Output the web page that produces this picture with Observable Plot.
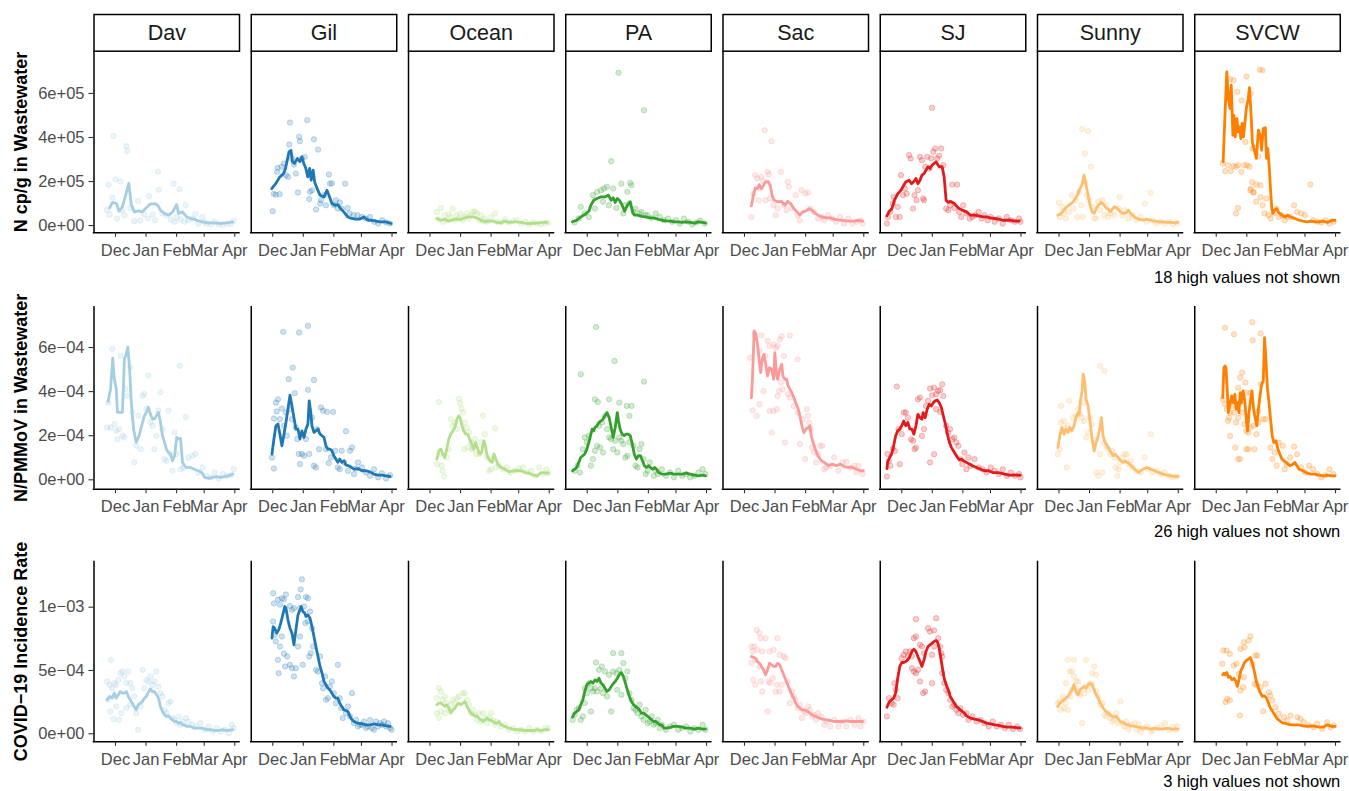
<!DOCTYPE html>
<html><head><meta charset="utf-8">
<script src="https://cdn.jsdelivr.net/npm/d3@7"></script>
<script src="https://cdn.jsdelivr.net/npm/@observablehq/plot@0.6"></script>
<style>
html,body{margin:0;padding:0;background:#fff;overflow:hidden;}
#chart{width:1349px;height:791px;position:relative;overflow:hidden;}
#chart svg{display:block;overflow:visible;}
</style></head><body><div id="chart"></div>
<script>
// ---------- categories / labels ----------
const sites = ["Dav","Gil","Ocean","PA","Sac","SJ","Sunny","SVCW"];
const siteColors = ["#A6CEE3","#1F78B4","#B2DF8A","#33A02C","#FB9A99","#E31A1C","#FDBF6F","#FF7F00"];
const rowTitles = ["N cp/g in Wastewater","N/PMMoV in Wastewater","COVID\u221219 Incidence Rate"];
const rowCaptions = ["18 high values not shown","26 high values not shown","3 high values not shown"];
const monthTicks = ["2021-12-01","2022-01-01","2022-02-01","2022-03-01","2022-04-01"];
const yTicksCpg = [0, 2e5, 4e5, 6e5];
const yTicksPmm = [0, 2e-4, 4e-4, 6e-4];
const yTicksInc = [0, 5e-4, 1e-3];

// ---------- data: [days after 2021-12-01, value] ----------
// Row 1: N cp/g (units of 1e5)
const cpgDavLine = [[-6,0.8],[-3,1.05],[1,1.0],[3.5,0.65],[7,0.85],[11,1.5],[13.5,1.92],[16,0.95],[19,0.62],[23,0.67],[27,0.62],[31,0.8],[35,0.97],[39.5,1.0],[43,0.92],[45.5,0.7],[49.5,0.55],[54,0.47],[58,0.62],[62,0.95],[64,0.55],[68,0.62],[72,0.4],[76,0.32],[80,0.29],[84,0.21],[88,0.17],[94,0.12],[100,0.12],[106,0.1],[113,0.12],[119,0.17]];
const cpgDavPts = [[-2,4.07],[11,3.6],[12,3.38],[0,2.1],[5,2.0],[-7,1.85],[43,2.45],[59,1.9],[65,1.65],[44,1.63],[34,1.33],[-3,1.26],[23,1.12],[71,0.92],[-9,0.7],[-6,0.5],[1.6,0.32],[7,0.7],[9,0.47],[15,0.8],[19,0.2],[25,0.23],[29,0.5],[33,0.32],[37.5,0.5],[40,0.24],[47.6,0.55],[51.7,0.47],[56,0.27],[60,0.17],[62,0.39],[66,0.29],[70,0.17],[74,0.24],[78,0.32],[81,0.52],[84,0.09],[88,0.39],[90,0.17],[92.5,0.09],[96.5,0.05],[100.6,0.17],[104.7,0.06],[108.8,0.02],[113,0.09],[117,0.08],[120,0.21]];
const cpgGilLine = [[-1,1.68],[3,1.9],[7,2.2],[11,2.36],[13,2.6],[16.5,3.35],[18.5,3.42],[20,2.9],[22,2.82],[25,3.05],[27.5,2.9],[29.5,3.12],[31.5,2.82],[33.5,2.6],[35.5,2.21],[37.5,2.6],[39,2.06],[41,2.52],[42.5,1.98],[45,1.68],[48,1.38],[52,1.3],[55,1.6],[57,1.38],[60,1.0],[63,0.92],[66,0.95],[69,0.77],[72,0.62],[76,0.39],[80,0.32],[84,0.29],[88,0.29],[92.5,0.39],[96.5,0.24],[100.5,0.24],[105,0.2],[109,0.17],[113,0.17],[117,0.14],[120,0.09]];
const cpgGilPts = [[0,0.65],[1,1.45],[3,1.4],[7,1.42],[4.5,2.44],[5,2.62],[9,2.67],[11.4,2.82],[13.4,2.29],[15.5,2.21],[16.7,3.68],[17.5,4.68],[19.5,3.05],[21.5,2.77],[23.5,2.36],[25.6,1.5],[26.8,4.03],[27.6,3.83],[29.6,3.05],[32.5,3.12],[35,4.79],[37,1.2],[37.8,1.53],[39.8,1.6],[41.8,3.92],[44,0.73],[46,3.45],[48,1.0],[49,1.15],[52,1.38],[54,0.92],[57,2.32],[58,1.9],[60,1.92],[62,0.92],[64,1.15],[66,0.77],[68,1.05],[70,0.77],[73.5,1.9],[76,0.8],[78,0.55],[82,0.47],[86,0.47],[90.5,0.39],[94.6,0.32],[98.7,0.39],[103,0.17],[107,0.09],[111,0.24],[115,0.14],[119,0.09]];
const cpgOceanLine = [[7,0.32],[11,0.24],[15,0.29],[19,0.2],[23,0.26],[27,0.29],[31,0.27],[35,0.35],[39.5,0.39],[43.5,0.39],[47.5,0.35],[51.5,0.24],[56,0.17],[60,0.21],[64,0.2],[68,0.14],[72,0.12],[76,0.2],[80,0.14],[84,0.17],[88,0.17],[92.5,0.14],[96.5,0.11],[100.5,0.09],[104.5,0.11],[109,0.11],[113,0.14],[119,0.14]];
const cpgOceanPts = [[7,0.62],[9,0.29],[11,0.8],[13,0.17],[15,0.47],[17,0.24],[19,0.5],[21,0.39],[23,0.77],[25,0.24],[27,0.47],[29,0.32],[31,0.53],[33,0.24],[35,0.39],[37.5,0.55],[39.5,0.32],[41.5,0.47],[43.6,0.62],[45.6,0.65],[47.7,0.55],[49.7,0.24],[51.7,0.47],[53.8,0.2],[55.8,0.32],[58,0.17],[62,0.39],[66,0.55],[68,0.17],[72,0.14],[76,0.29],[80,0.14],[84,0.2],[88,0.24],[92.5,0.09],[96.5,0.17],[100.6,0.06],[104.7,0.14],[108.8,0.09],[113,0.06],[117,0.11],[120,0.14]];
const cpgPALine = [[-15,0.17],[-10.7,0.24],[-6.6,0.39],[-2.5,0.5],[1.6,0.65],[3.7,0.92],[6.6,1.15],[9.9,1.23],[14,1.3],[18,1.3],[21.4,1.38],[24.3,1.15],[26.3,1.26],[28.4,1.05],[30.5,1.23],[32.5,1.15],[34.6,1.0],[37.9,0.65],[40.7,0.92],[43.6,1.08],[46,0.62],[47.7,0.47],[51,0.47],[55,0.42],[59,0.39],[63.4,0.35],[67.5,0.35],[71.6,0.29],[75.7,0.24],[79.8,0.21],[84,0.2],[88,0.17],[92,0.17],[96.3,0.14],[100.4,0.17],[104.5,0.14],[108.6,0.11],[112.8,0.17],[117,0.14],[120,0.11]];
const cpgPAPts = [[31.7,6.94],[57.6,5.24],[24.3,2.92],[34.6,1.9],[43.6,1.94],[44.8,1.83],[20,1.76],[17,1.68],[14,1.6],[-6.6,0.85],[-2.5,0.55],[5.8,1.38],[9.9,1.53],[26.3,1.68],[29.6,0.8],[36.6,0.55],[40.7,1.53],[42.8,1.0],[47,0.62],[49,0.77],[53,0.55],[55,0.62],[61,0.47],[65,0.35],[69.5,0.55],[73.6,0.39],[77.8,0.24],[82,0.32],[86,0.17],[90,0.24],[94,0.09],[98,0.32],[102.5,0.17],[106.6,0.05],[110.7,0.14],[114.8,0.23],[119,0.09],[-12.8,0.14],[-8.6,0.32],[1.6,0.39],[7.8,0.77],[16,1.08],[22,0.92],[38.7,0.92],[59,0.47]];
const cpgSacLine = [[7,0.89],[9,1.38],[11,1.71],[13,1.68],[15,1.86],[17,1.68],[19,1.8],[21.3,1.98],[24,2.0],[26,1.83],[28,1.38],[30,1.15],[33.6,1.08],[37.7,1.1],[41,0.92],[43.9,1.1],[46.8,1.0],[50,0.77],[53.3,0.62],[56.2,0.47],[59,0.62],[62,0.65],[65.6,0.77],[68.5,0.7],[71.8,0.55],[74.6,0.47],[78.8,0.39],[82.9,0.35],[87,0.35],[91,0.29],[95,0.26],[99,0.24],[103,0.21],[107.5,0.2],[111.6,0.2],[115.7,0.24],[119.8,0.2]];
const cpgSacPts = [[20.5,4.33],[27.5,3.83],[7,0.39],[9,1.45],[11,2.29],[13,2.14],[14.4,1.15],[16.4,1.68],[17,2.21],[19,2.02],[21.3,1.15],[23.4,2.44],[24.6,2.32],[26,1.23],[29.5,0.92],[31.6,0.47],[33.6,0.77],[37,2.44],[40,0.92],[42.7,0.7],[43.9,1.98],[45,1.76],[48,0.8],[52,1.38],[54,0.47],[58,1.6],[61.5,1.45],[64.4,1.5],[56,0.24],[66.5,0.77],[70.5,0.62],[74.6,0.32],[78.8,0.39],[80.8,0.24],[85,0.47],[89,0.32],[93,0.17],[97,0.39],[101,0.09],[105.4,0.32],[109.5,0.09],[113.6,0.17],[117.7,0.24],[119.8,0.09]];
const cpgSJLine = [[-15,0.44],[-13,0.62],[-10,0.77],[-7.4,1.15],[-4,1.45],[-0.8,1.6],[2,1.83],[4,1.98],[7.4,2.06],[10,1.9],[12.3,2.0],[14.4,2.14],[16.4,1.9],[18.5,2.06],[20.5,2.29],[22.6,2.36],[24.6,2.52],[26.7,2.67],[28.7,2.59],[30.8,2.74],[32.8,2.82],[34.9,2.89],[37,2.74],[38,2.67],[41,2.67],[43,2.21],[45,1.15],[47.2,1.05],[49.2,1.1],[53.3,1.0],[57.4,0.8],[61.5,0.7],[65.6,0.62],[69.7,0.47],[73.8,0.47],[78,0.44],[82,0.39],[86,0.39],[90,0.35],[94.3,0.32],[98.4,0.29],[102.5,0.24],[106.6,0.24],[110.7,0.24],[114.8,0.2],[119,0.2]];
const cpgSJPts = [[30.8,5.35],[-15,0.09],[-14,0.39],[-11.5,0.62],[-9,1.0],[-8.2,1.3],[-6,0.39],[-4,0.85],[-2,0.39],[-0.8,2.29],[1.2,1.38],[3.3,1.68],[5,1.45],[7.4,3.2],[9,3.05],[11.5,0.77],[13,1.38],[15,1.15],[16.4,1.6],[18.5,3.12],[20.5,2.97],[21.7,1.23],[22.6,1.15],[23.8,2.67],[25.8,3.12],[27.9,2.59],[30,3.05],[32,3.35],[34,3.5],[36,3.05],[38,3.17],[40,3.5],[42.2,2.74],[45,0.77],[47.2,0.7],[49.2,0.92],[51.3,1.86],[53.3,0.8],[56.2,1.86],[58.2,0.62],[60.3,0.39],[62.3,0.92],[65.6,0.55],[68.9,0.32],[71.8,0.39],[74.6,0.47],[78,0.62],[81,0.32],[84,0.47],[87,0.24],[90.2,0.39],[94.3,0.17],[98.4,0.32],[102.5,0.09],[106.6,0.39],[110.7,0.24],[114.8,0.17],[119,0.32],[120.5,0.17]];
const cpgSunnyLine = [[-1.2,0.47],[2,0.55],[5,0.7],[7.8,0.85],[11,0.95],[14.4,1.08],[17.2,1.26],[19.3,1.45],[21.3,1.68],[23.4,1.86],[25.4,2.29],[27.5,1.83],[29.5,1.38],[31.6,0.92],[33.6,0.62],[35.7,0.55],[37.7,0.77],[39.8,0.92],[43,1.05],[46,0.92],[48,0.8],[50,0.74],[52,0.62],[54,0.73],[56,0.85],[59.5,0.77],[62.3,0.62],[65,0.55],[68.5,0.59],[70.5,0.7],[72.6,0.55],[76.7,0.39],[80.8,0.29],[85,0.24],[89,0.29],[93,0.24],[97.2,0.2],[101.3,0.17],[105.4,0.17],[109.5,0.14],[113.6,0.14],[117.7,0.12],[120.5,0.14]];
const cpgSunnyPts = [[23.4,4.38],[29.5,4.29],[26.2,3.27],[32.4,2.67],[0,1.05],[0.8,0.39],[3,0.85],[5,0.55],[7,0.32],[10,0.62],[13,1.38],[15,0.77],[17.2,1.15],[18.5,0.39],[20.5,1.53],[22.5,0.92],[24.2,0.39],[26.7,1.98],[28.3,1.38],[30.3,1.15],[33.6,0.85],[35.7,0.32],[37.7,0.32],[39.8,1.08],[41.8,0.7],[43.9,1.15],[46,0.47],[48,0.92],[50,0.39],[52,0.55],[56,0.47],[60.3,0.77],[61.5,1.3],[64.4,0.47],[66.4,0.7],[70.5,0.32],[74.6,0.47],[78.8,0.24],[82.9,0.39],[87,1.0],[89,0.17],[93,1.48],[95,0.24],[99,0.09],[103.4,0.17],[107.5,0.09],[111.6,0.17],[115.7,0.06],[119.8,0.11]];
const cpgSVCWLine = [[7,2.89],[9,5.17],[10.7,6.98],[12.3,5.77],[14,5.32],[15.2,6.38],[16.9,4.1],[18,5.0],[19.3,4.03],[21,4.86],[22.2,4.26],[23.5,4.48],[25,3.95],[26.3,4.64],[27.6,4.03],[29.2,4.71],[30.5,5.32],[32.5,5.77],[33.7,6.26],[35.4,5.0],[36.6,3.8],[38.7,3.42],[40.7,3.05],[42.8,4.33],[44.9,4.03],[46,3.42],[47.7,4.41],[49.8,4.44],[51,3.05],[52.3,3.5],[53.9,2.59],[55,1.68],[56.4,0.77],[57.6,0.55],[59,0.7],[61.3,0.77],[63.4,0.59],[66.7,0.47],[69.5,0.39],[72.4,0.47],[75.7,0.39],[79.8,0.32],[84,0.24],[88,0.2],[92.2,0.17],[96.3,0.2],[100.4,0.17],[104.5,0.17],[108.6,0.2],[112.8,0.14],[117,0.24],[120.5,0.24]];
const cpgSVCWPts = [[14,6.65],[17.5,6.6],[21.4,6.08],[30.7,6.77],[44.2,7.08],[47,7.05],[25.7,5.68],[34.8,5.99],[29.7,3.79],[42.6,3.14],[6.6,2.82],[9,2.47],[11.9,2.74],[14.8,2.47],[17.3,2.71],[20,2.67],[22.2,2.74],[25.5,2.44],[28.4,2.74],[31.3,2.74],[33.7,2.67],[36.6,3.5],[38.7,3.53],[40.7,1.86],[22,0.8],[20,0.55],[35,1.67],[38,1.51],[36.5,1.97],[45,1.29],[34.6,1.6],[37.5,1.5],[40.7,1.08],[44.9,1.83],[47,0.92],[49,0.55],[51,1.23],[53,0.47],[55,0.32],[58.4,0.55],[61.3,0.77],[63.4,0.39],[66.7,0.47],[69.5,0.24],[72.4,0.39],[75.7,0.39],[79,0.92],[82,0.62],[86,0.55],[90,0.47],[95.5,1.86],[98.4,0.24],[102.5,0.17],[106.6,0.14],[110.7,0.24],[114.8,0.09],[119,0.17]];

// Row 2: N/PMMoV (units of 1e-4)
const pmmDavLine = [[-7.5,3.55],[-5,4.12],[-2.8,5.52],[-1.2,4.58],[0.8,4.12],[2,3.06],[5,3.06],[7,3.06],[8.1,4.27],[9,5.48],[11,5.71],[12.5,6.02],[14.3,5.03],[16,3.52],[18.3,2.3],[21,1.7],[24,2.0],[26.5,2.45],[29.3,2.91],[31.4,3.06],[33.4,3.29],[35.4,2.98],[37.5,2.76],[39.5,2.76],[41.5,2.91],[43.6,3.06],[45.6,2.61],[47.7,2.0],[49.7,1.7],[51.7,1.39],[53.8,1.24],[55.8,1.17],[57.8,0.86],[60,1.09],[62,1.92],[64,1.85],[66,1.88],[68,0.79],[70,0.64],[72,0.56],[76,0.56],[80,0.48],[84,0.41],[87.6,0.33],[90.5,0.11],[94.5,0.06],[98.6,0.11],[102.6,0.14],[106.7,0.11],[110.8,0.15],[115,0.18],[119,0.26]];
const pmmDavPts = [[-3.3,5.94],[5,5.63],[-7.3,3.5],[-8.5,2.37],[-5,2.37],[-1.2,2.52],[0.8,2.22],[2,1.84],[3.7,2.3],[7,2.0],[9,1.92],[10,4.12],[11.8,3.82],[15,5.1],[17,3.06],[19,0.79],[21,1.55],[23,2.91],[25.6,1.39],[27.3,3.82],[29.3,3.89],[31.4,3.21],[33.4,4.73],[35.4,2.61],[37.5,2.45],[39.5,1.39],[41.5,2.0],[43.6,3.14],[45.6,3.97],[47.7,2.3],[49.7,0.94],[51.7,0.86],[53.8,3.14],[55.8,1.17],[57.8,0.41],[60,2.15],[62,1.17],[65,5.17],[66,0.48],[69,0.56],[71.3,2.85],[74,1.01],[78,1.09],[81,1.17],[84,0.33],[88.4,0.56],[92.5,0.18],[96.5,0.11],[100.6,0.33],[104.7,0.06],[108.8,0.26],[113,0.18],[117,0.21],[120,0.48]];
const pmmGilLine = [[-0.8,1.17],[1.2,1.85],[3.2,2.45],[5.3,2.53],[7.3,2.07],[9.3,1.54],[11.4,2.07],[13.4,2.6],[15.4,3.2],[17.5,3.84],[19.5,3.35],[21.5,2.82],[23.5,2.3],[25.6,2.3],[27.6,1.85],[29.6,2.22],[31.7,1.92],[33.7,2.3],[35.7,2.53],[37,3.58],[38.6,3.05],[39.8,2.45],[41.8,2.15],[43.8,2.22],[45.9,2.3],[48,2.07],[50,2.0],[52,1.92],[54,1.54],[56,1.39],[58,1.39],[60,1.32],[62,1.09],[64,0.94],[66,0.79],[68,0.94],[70,0.79],[72.3,0.86],[74.3,0.67],[76.3,0.64],[78.4,0.61],[82.4,0.48],[86.5,0.51],[90.5,0.41],[94.6,0.41],[98.7,0.36],[102.7,0.26],[106.8,0.21],[110.8,0.21],[115,0.18],[119,0.15]];
const pmmGilPts = [[10.6,6.71],[26.8,6.68],[35.7,6.98],[20.3,5.09],[16.2,4.56],[41.8,4.53],[35.7,4.08],[22.3,3.93],[5.3,3.65],[3.2,3.5],[9.3,3.23],[13.4,3.05],[4,3.1],[1.2,2.78],[7.3,2.75],[11.4,2.45],[14.2,2.0],[17.5,3.2],[19.5,2.75],[23.5,2.37],[24.8,1.85],[26.4,1.17],[27.6,0.71],[29.6,1.17],[31.7,1.09],[33.7,1.85],[37,1.17],[39.8,2.82],[41.8,0.64],[43.8,0.56],[45,2.3],[47,1.39],[49,3.28],[51,3.14],[54,1.39],[55,3.08],[56.8,0.76],[59,1.01],[61.3,3.08],[63.3,1.32],[66,0.56],[68,0.48],[70,1.32],[72.3,0.79],[74.3,2.2],[76.3,0.41],[78.4,1.32],[80.4,1.47],[82.4,0.26],[84.5,0.51],[86.5,0.79],[90.5,0.56],[94.6,0.33],[98.7,0.18],[102.7,0.48],[106.8,0.11],[110.8,0.3],[115,0.06],[119,0.21],[-0.8,1.01],[1.2,0.51]];
const pmmOceanLine = [[7,0.94],[9,1.32],[11,1.39],[13,1.17],[15,1.01],[17,1.39],[19,1.85],[21,2.07],[23.2,2.22],[25.3,2.37],[27.3,2.75],[29.3,2.91],[30.5,2.83],[32,2.53],[34.2,2.22],[36.3,2.07],[38.3,2.07],[40.3,1.85],[42.4,1.62],[44.4,1.39],[46.4,1.7],[48.5,1.39],[50.5,1.17],[52.5,1.27],[54.6,1.77],[55.8,1.62],[58,1.09],[60.7,0.86],[63,0.79],[64.8,1.17],[66.8,0.94],[68.8,0.71],[72,0.56],[76,0.48],[80,0.36],[84.3,0.41],[88.4,0.41],[92.5,0.41],[96.5,0.33],[100.6,0.3],[104.7,0.21],[108.8,0.18],[112.8,0.33],[117,0.3],[120,0.3]];
const pmmOceanPts = [[9,3.53],[29.3,3.68],[30.5,3.47],[32,3.23],[33.4,3.05],[21,2.75],[23.2,2.45],[25.3,2.6],[27.3,2.3],[35.4,2.6],[37.5,2.37],[39.5,2.15],[41.5,1.7],[43.6,1.47],[45.6,1.85],[53.8,2.91],[55.8,2.07],[66,2.33],[67,0.56],[7,0.71],[10,1.17],[11.8,0.64],[13,0.41],[14.3,0.15],[17,1.01],[19,1.39],[34.6,1.39],[38.7,1.47],[42.8,1.39],[46.8,1.17],[49.7,1.17],[51.7,1.7],[58,1.01],[60,0.41],[62,0.48],[64,0.94],[70,0.64],[74,0.48],[78,0.56],[82,0.33],[86,0.41],[90.4,0.51],[94.5,0.56],[98.6,0.33],[102.6,0.41],[106.7,0.18],[110.8,0.56],[115,0.26],[118,0.48],[120,0.3]];
const pmmPALine = [[-15,0.41],[-12.8,0.48],[-10.7,0.56],[-8.6,0.79],[-6.6,1.01],[-4.5,1.09],[-2.5,1.17],[-0.4,1.39],[1.6,1.7],[3.7,2.07],[5,2.3],[6.6,2.22],[7.8,2.37],[9.9,2.45],[11.9,2.6],[14,2.67],[16,2.75],[18,2.91],[20,3.05],[22.2,2.83],[24.3,2.37],[26.3,1.92],[28.4,2.37],[30.5,3.05],[31.7,2.67],[33.3,2.3],[35.4,2.07],[37.4,2.0],[39.5,2.07],[41.6,2.07],[43.6,2.0],[45.7,1.62],[47.7,1.17],[49.8,0.94],[51.9,1.09],[54,1.09],[56,0.86],[58,0.64],[60,0.56],[62,0.64],[64.2,0.56],[66.3,0.48],[68.3,0.56],[70.4,0.48],[72.4,0.33],[75.7,0.26],[79.8,0.26],[84,0.3],[88,0.26],[92.2,0.26],[96.3,0.26],[100.4,0.3],[104.5,0.26],[108.6,0.21],[112.8,0.18],[117,0.21],[120,0.18]];
const pmmPAPts = [[9,6.93],[27.6,5.39],[-6.6,4.79],[57.6,4.45],[7.8,3.65],[10.7,3.53],[22.2,3.65],[18,2.9],[15.2,2.6],[11.9,2.45],[32.5,3.5],[40,3.35],[42.8,2.9],[44.9,3.35],[1.6,2.0],[-2.5,1.92],[-4.5,1.39],[-0.4,1.7],[3.7,0.64],[5.8,0.94],[7.8,1.32],[9.9,1.54],[13,1.47],[16,1.24],[20,2.3],[22.2,1.92],[24.3,1.85],[26.3,1.39],[28.4,1.77],[30.5,1.24],[32.5,1.92],[34.6,1.77],[36.6,1.62],[38.7,1.01],[40.7,1.09],[42.8,1.7],[46.9,1.54],[49,0.64],[51,0.56],[53,1.39],[55,1.62],[57.2,0.94],[59.3,0.26],[61.3,0.41],[63.4,0.79],[67.5,0.18],[69.5,0.41],[71.6,0.26],[75.7,0.48],[79.8,0.18],[84,0.33],[88,0.11],[92.2,0.41],[96.3,0.18],[100.4,0.26],[104.5,0.11],[108.6,0.18],[112.8,0.33],[117,0.48],[120,0.26],[-12.8,0.41],[-9.9,0.64],[-7.4,0.33]];
const pmmSacLine = [[7,3.73],[8.2,4.71],[9.8,6.75],[11.5,6.6],[13,6.22],[15.2,5.31],[16.4,4.86],[18,5.46],[19.7,5.69],[21.3,5.31],[23.4,4.71],[25.4,5.09],[27.5,5.01],[29.5,4.56],[30.8,5.77],[32.4,4.79],[33.6,4.56],[35.7,5.01],[37.7,5.24],[39,4.71],[41,4.56],[42.7,4.56],[44.3,4.26],[46,4.11],[48,3.95],[50,3.73],[52,3.5],[54,3.28],[56.2,2.9],[58.2,2.45],[60.3,2.14],[62.3,2.3],[64.4,2.37],[66.4,2.45],[67.7,1.99],[69.7,1.69],[71.8,1.39],[74.6,1.09],[78,0.86],[80.8,0.79],[85,0.64],[89,0.71],[93,0.64],[97.2,0.71],[101.3,0.6],[105.4,0.56],[109.5,0.56],[113.6,0.48],[117.7,0.41],[120.6,0.41]];
const pmmSacPts = [[5.7,5.54],[10.3,6.6],[17.2,6.55],[23.4,6.3],[15.2,5.84],[21.3,5.62],[25.4,6.07],[29.5,6.14],[31.6,5.99],[33.6,6.07],[35.7,6.36],[37.7,6.51],[39.8,5.62],[46,6.55],[54,5.46],[8.2,3.15],[12.3,2.9],[15.2,3.43],[19.3,4.03],[25.4,3.12],[27.5,2.14],[29.5,3.12],[32.8,3.2],[33.6,3.8],[35,4.03],[37,4.41],[38.6,4.11],[41,1.69],[43.9,3.88],[46,3.73],[50,3.35],[54,3.05],[56.2,1.62],[59,2.75],[61.5,0.94],[63.2,3.2],[64.4,2.9],[65.6,2.6],[67.3,2.3],[68.5,1.47],[70.5,1.24],[72.6,0.79],[74.6,1.16],[76.7,1.54],[78.8,1.54],[80.8,0.48],[82.9,0.56],[87,0.64],[91,1.01],[95.2,0.41],[99.3,0.79],[103.4,0.82],[107.5,0.56],[111.6,0.64],[113.6,0.33],[115.7,0.64],[119.8,0.26]];
const pmmSJLine = [[-15,0.51],[-14.4,0.79],[-12.3,1.01],[-10.3,1.17],[-8.2,1.54],[-6.2,1.99],[-4.1,2.22],[-2,2.3],[0,2.45],[2,2.67],[4.1,2.45],[6.2,2.6],[8.2,2.3],[10.3,2.3],[12.3,2.07],[14.4,2.45],[16.4,2.97],[18.5,2.82],[20.5,2.75],[21.7,3.05],[23.8,2.82],[25.8,3.2],[27.9,3.43],[30,3.35],[32,3.5],[34,3.58],[36,3.62],[38,3.5],[40.2,3.28],[42.2,2.9],[44.3,2.52],[46.3,2.07],[48.4,1.69],[50.5,1.46],[52.5,1.31],[54.5,1.16],[56.6,1.01],[58.7,0.91],[60.7,0.94],[62.8,0.86],[65.6,0.79],[68.9,0.71],[71.8,0.64],[75.9,0.56],[80,0.48],[84,0.41],[88.2,0.41],[92.3,0.33],[96.4,0.33],[100.5,0.3],[104.6,0.26],[108.7,0.21],[112.8,0.21],[117,0.21],[120,0.21]];
const pmmSJPts = [[-15,0.15],[-14.6,1.17],[-13,0.86],[-11.5,0.64],[-9,1.42],[-7,1.31],[-5,4.23],[-3.3,2.3],[-2,0.71],[0,2.07],[2,3.05],[4.1,3.05],[6.2,2.82],[9.4,1.84],[11.5,1.77],[13,1.39],[14.4,1.46],[16.4,3.65],[18.5,3.73],[20.5,1.99],[22.6,2.3],[24.6,3.35],[26.7,3.58],[28.7,4.14],[30.8,3.83],[32.8,4.18],[34.9,3.88],[37,4.03],[39,4.07],[41,4.33],[42.2,3.8],[28.7,0.79],[32.8,1.16],[34.9,3.2],[39,3.08],[45,2.45],[47,2.14],[49,2.3],[51.3,1.84],[53.3,1.92],[55.4,1.69],[57.4,1.54],[59.5,0.94],[61.5,0.71],[63.6,1.24],[65.6,0.48],[67.7,1.01],[69.7,0.64],[73.8,0.94],[78,0.56],[82,0.48],[86,0.33],[90.2,0.56],[94.3,0.41],[98.4,0.26],[102.5,0.48],[106.6,0.18],[110.7,0.33],[114.8,0.18],[119,0.26],[120.5,0.11]];
const pmmSunnyLine = [[-1.2,1.46],[0.8,1.99],[2.9,2.37],[5,2.07],[7,2.3],[9,2.15],[11,2.37],[13,2.22],[15.2,2.45],[17.2,2.82],[19.3,3.05],[20.5,2.97],[21.7,3.58],[23.4,4.03],[24.6,4.79],[26.2,4.41],[27.5,3.65],[29.5,3.35],[31.6,2.6],[33.6,1.84],[35.7,1.31],[37.7,1.69],[39.8,1.99],[41.8,2.45],[43,2.82],[44.7,1.99],[46.8,1.69],[48.8,1.54],[50.9,1.39],[52.9,1.24],[55,1.09],[57,1.16],[59,1.06],[61.1,0.94],[63.2,0.86],[65.2,0.79],[67.3,0.86],[69.3,0.79],[72.6,0.67],[76.7,0.48],[80.8,0.33],[85,0.48],[89,0.56],[93.1,0.48],[97.2,0.41],[101.3,0.33],[105.4,0.26],[109.5,0.21],[113.6,0.18],[117.7,0.15],[120.5,0.15]];
const pmmSunnyPts = [[41.8,5.16],[46,4.94],[25.4,3.5],[2,3.35],[10.3,3.58],[5,2.67],[2,2.6],[7,2.37],[9,2.45],[11,2.22],[14.4,2.82],[17.2,2.9],[19.3,3.2],[21.3,2.97],[23.4,2.82],[25.4,2.67],[27.5,1.92],[29.5,2.15],[31.6,2.82],[33.6,2.52],[35.7,1.81],[37.7,0.33],[39.8,0.18],[41.8,1.16],[43.9,0.33],[46,1.69],[48,1.54],[50,1.39],[52,1.16],[54,1.31],[56,1.01],[57.4,0.56],[59,0.18],[60.3,0.48],[62.3,0.79],[64.4,1.01],[66.4,1.16],[68.5,1.16],[70.5,0.71],[72.6,0.86],[74.6,0.56],[78.8,0.41],[82.9,0.33],[87,1.01],[91,0.48],[93,2.07],[95,0.33],[99.3,0.41],[103.4,0.26],[107.5,0.33],[111.6,0.18],[115.7,0.11],[119.8,0.15],[-1.2,1.16],[0.8,1.39],[8,0.56]];
const pmmSVCWLine = [[6.6,3.73],[7.8,5.09],[9,5.16],[9.9,5.09],[11.1,4.11],[12.3,3.05],[14,3.43],[15.6,3.8],[17.3,3.5],[18.9,3.88],[20.2,3.2],[21.4,3.5],[23,3.05],[24.3,3.95],[25.5,3.5],[27.2,4.03],[28.8,3.65],[30.5,2.75],[31.7,2.22],[33.3,3.05],[34.6,3.58],[36.2,4.03],[37.9,3.2],[39.5,2.82],[41.2,2.45],[42.8,3.2],[44.4,3.8],[46,4.33],[47.7,4.48],[49,6.45],[50.2,5.62],[51.9,4.18],[53.5,3.5],[55.1,2.75],[56.8,1.99],[58.4,1.69],[60.5,1.77],[62.6,1.39],[64.6,1.16],[66.7,0.94],[68.7,0.86],[70.8,0.79],[72.8,0.71],[74.9,0.64],[77.8,0.71],[79.8,0.79],[81.9,0.64],[84,0.48],[88,0.41],[92.2,0.3],[96.3,0.26],[100.4,0.26],[104.5,0.21],[108.6,0.18],[112.8,0.21],[117,0.18],[120.5,0.18]];
const pmmSVCWPts = [[9,6.9],[18,6.6],[36.6,7.15],[37,6.33],[45,6.64],[26.3,4.86],[24.3,4.63],[22.2,4.18],[29.6,4.41],[30.5,3.95],[34.6,3.95],[45,4.33],[6.6,3.65],[9,3.43],[10.7,3.2],[14,3.05],[11.9,2.67],[16,3.35],[18,3.05],[20,2.6],[22.2,2.82],[24.3,3.5],[26.3,3.05],[28.4,2.52],[30.5,2.22],[32.5,2.14],[34.6,2.37],[37.9,2.45],[40.7,2.07],[42.8,3.12],[47.7,2.75],[13,2.82],[14,1.99],[19.3,1.46],[22.2,0.94],[24.3,0.94],[30.5,1.39],[32.5,1.39],[38.7,1.39],[42.8,2.6],[50,2.75],[55,1.46],[57,0.94],[59.3,1.24],[61.3,0.64],[63.4,1.69],[67.5,1.54],[69.5,0.48],[71.6,0.71],[74.9,1.01],[79,1.51],[82,1.16],[86,0.56],[90,0.33],[94.2,0.64],[98.4,0.48],[102.5,0.26],[106.6,0.11],[110.7,0.21],[114.8,0.48],[119,0.26]];

// Row 3: COVID-19 incidence rate (units of 1e-4)
const incDavLine = [[-8.5,2.68],[-6,2.95],[-3.3,2.82],[-1.2,3.21],[0.8,2.82],[2.9,3.08],[5,3.34],[7,3.21],[9,3.21],[11,3.34],[13,2.95],[15,2.68],[17,2.42],[19,2.16],[21,1.89],[23,2.29],[25.3,2.42],[27.3,2.55],[29.3,2.82],[31.4,2.95],[33.5,3.3],[35.5,3.55],[37.5,3.3],[39.5,3.34],[41.5,3.1],[43.6,2.82],[45.6,2.16],[47.7,1.76],[49.7,1.5],[51.7,1.37],[53.8,1.42],[55.8,1.24],[57.8,1.1],[60,0.97],[62,0.97],[64,0.84],[66,0.89],[68,0.71],[70,0.71],[72,0.58],[76,0.58],[80,0.45],[84,0.45],[88,0.45],[92.5,0.32],[96.5,0.32],[100.6,0.26],[104.7,0.26],[108.8,0.32],[113,0.26],[119,0.32]];
const incDavPts = [[-4.5,5.84],[-8.5,4.13],[-6,3.87],[-3.3,3.6],[-1.2,4.0],[0.8,3.87],[2.9,4.26],[5,4.79],[7,4.92],[9,4.53],[11,4.0],[13,4.92],[15,4.0],[17,3.6],[19,2.95],[21,1.63],[23,0.32],[25.3,2.16],[27.3,5.05],[29.3,3.6],[31.4,4.26],[33.4,4.13],[35.4,4.53],[37.5,3.87],[39.5,4.13],[41.5,4.92],[43.6,3.74],[45.6,3.21],[47.7,2.95],[49.7,1.89],[51.7,1.63],[53.8,2.42],[55.8,2.55],[57.8,1.24],[60,1.1],[62,0.84],[64,1.37],[66,0.71],[68,0.97],[71.3,1.24],[74,0.97],[78,0.71],[82,0.58],[86,0.84],[90.5,0.32],[94.5,0.58],[98.6,0.18],[102.6,0.45],[106.7,0.18],[110.8,0.32],[115,0.05],[118,0.71],[120,0.45],[-7.3,2.68],[-5.3,1.76],[-2,1.16],[0.8,2.16],[3.7,1.1],[6,1.63],[11,2.03],[15,2.29]];
const incGilLine = [[-0.8,7.55],[0.4,8.47],[2,8.34],[4,7.95],[6.1,8.21],[8.1,8.74],[10.2,9.39],[12.2,10.05],[13.4,9.92],[15.4,9.0],[17.5,8.34],[19.5,7.95],[21.5,7.03],[23.5,8.21],[25.6,9.39],[27.6,9.79],[28.8,10.05],[30.5,9.66],[32.5,9.53],[33.7,9.26],[35.7,9.39],[37.8,9.13],[39.8,8.47],[41.8,7.68],[43.8,6.89],[45.9,6.11],[48,5.32],[50,4.79],[52,4.13],[54,3.87],[56,3.6],[58,3.47],[60,3.21],[62,2.95],[64,2.82],[66,2.82],[68,2.42],[70,2.16],[72.3,1.89],[74.3,1.84],[76.3,1.76],[78.4,1.37],[80.4,1.1],[82.4,0.97],[84.5,0.89],[86.5,0.84],[90.5,0.79],[94.6,0.71],[98.7,0.71],[102.7,0.79],[106.8,0.71],[110.8,0.71],[115,0.63],[119,0.58]];
const incGilPts = [[29.6,12.2],[28.4,11.4],[0.4,11.1],[1.2,10.3],[5.3,10.6],[7.3,10.2],[9.3,10.7],[11.4,10.6],[13.4,11.0],[17.5,10.1],[19.5,9.79],[21.5,9.92],[25.6,10.8],[27.6,9.92],[31.7,10.05],[33.7,10.8],[35.7,10.7],[37.8,9.66],[39.8,8.34],[0.4,8.87],[2,7.82],[3.2,7.29],[5.3,5.84],[6,4.79],[7.3,6.89],[9.3,7.68],[11.4,6.32],[12.6,5.32],[14.6,6.11],[17.5,5.45],[19.5,5.18],[21.5,4.53],[23.5,5.18],[25.6,6.89],[27.6,7.68],[30.5,5.45],[33,8.74],[35.7,8.87],[37,6.11],[38.6,6.37],[41,6.89],[43.8,5.05],[45.9,4.92],[48,6.11],[50,4.0],[51.2,3.6],[53.2,4.53],[54,2.68],[56,2.82],[58,3.74],[60,4.13],[62,3.21],[64,2.42],[66,5.45],[68,2.82],[69.4,2.03],[71,1.24],[74.3,1.63],[76.3,2.16],[78.4,1.37],[80.4,3.21],[82.4,0.84],[84.5,1.1],[86.5,0.58],[88.5,0.71],[90.5,0.71],[92.6,0.97],[94.6,0.45],[96.6,0.58],[98.7,1.1],[100.7,0.45],[102.7,0.32],[104.8,0.97],[106.8,0.58],[108.8,0.84],[110.8,0.71],[113,0.97],[115,0.58],[117,0.84],[119,0.45],[120.5,0.32]];
const incOceanLine = [[7,2.29],[9,2.42],[11,2.42],[13,2.29],[15,2.16],[17,2.29],[19,2.03],[21,1.63],[23.2,1.89],[25.3,2.03],[27.3,2.29],[29.3,2.42],[31.4,2.29],[33.4,2.42],[35.4,2.55],[37.5,2.16],[39.5,1.89],[41.5,1.63],[43.6,1.5],[45.6,1.42],[47.7,1.37],[49.7,1.24],[51.7,1.1],[53.8,0.97],[55.8,1.1],[58,1.24],[60,1.1],[62,1.05],[64,0.97],[66,0.84],[68,0.84],[70,0.97],[72,0.71],[76,0.58],[80,0.45],[84.3,0.37],[88.4,0.32],[92.5,0.32],[96.5,0.26],[100.6,0.26],[104.7,0.26],[108.8,0.32],[112.8,0.26],[117,0.32],[120,0.32]];
const incOceanPts = [[9,3.6],[11,3.34],[7,2.82],[13,2.68],[15,2.95],[17,2.42],[11,1.76],[15,1.63],[19,1.89],[21,2.29],[23.2,2.68],[25.3,2.42],[27.3,2.82],[29.3,2.95],[33.4,3.21],[35.4,3.21],[37.5,2.68],[39.5,2.29],[41.5,1.63],[43.6,1.89],[45.6,1.5],[47.7,1.1],[49.7,1.63],[51.7,0.97],[53.8,1.63],[55.8,1.24],[58,0.84],[60,1.24],[62,1.63],[64,1.1],[66,0.71],[68,0.97],[72,0.58],[76,0.71],[80,0.32],[84.3,0.45],[88.4,0.18],[92.5,0.32],[96.5,0.18],[100.6,0.45],[104.7,0.18],[108.8,0.32],[112.8,0.18],[117,0.45],[120,0.45],[9,1.24],[7,1.63]];
const incPALine = [[-15,1.32],[-12.8,1.63],[-10.7,1.76],[-8.6,1.89],[-6.6,2.29],[-4.5,2.68],[-2.5,3.34],[-0.4,3.87],[1.6,4.0],[3.7,4.13],[5.8,4.0],[7.8,4.26],[9.9,4.13],[11.9,4.39],[14,4.0],[16,3.87],[18,3.6],[20,3.34],[22.2,3.47],[24.3,3.74],[26.3,3.95],[28.4,4.13],[30.5,4.39],[32.5,4.66],[34.6,4.84],[36.6,4.53],[38.7,4.0],[40.7,3.47],[42.8,2.95],[44.9,2.55],[47,2.29],[49,2.16],[51,2.03],[53,1.89],[55,1.63],[57.2,1.63],[59.3,1.5],[61.3,1.37],[63.4,1.24],[65.4,1.1],[67.5,0.97],[69.5,0.97],[71.6,0.84],[73.6,0.71],[75.7,0.71],[77.8,0.45],[79.8,0.45],[84,0.5],[88,0.58],[92.2,0.58],[96.3,0.53],[100.4,0.45],[104.5,0.45],[108.6,0.37],[112.8,0.45],[117,0.37],[120,0.37]];
const incPAPts = [[26.3,6.37],[34.6,6.37],[9,5.63],[36.6,5.58],[14.8,5.32],[11.9,5.05],[18,4.92],[22.2,4.66],[26.3,4.92],[29.6,4.79],[32.5,5.05],[38.7,4.39],[40.7,4.92],[1.6,4.0],[3.7,3.6],[5.8,3.34],[7.8,3.6],[9.9,3.34],[14,3.6],[16,3.21],[20,2.95],[24.3,1.76],[30.5,3.47],[34.6,3.08],[42.8,3.21],[44.9,2.68],[47,2.03],[49,1.89],[51,1.63],[53,2.29],[55,1.37],[57.2,1.1],[59.3,1.89],[61.3,0.84],[63.4,0.97],[65.4,1.37],[67.5,0.71],[69.5,0.84],[71.6,1.1],[73.6,0.45],[75.7,0.71],[79.8,0.32],[84,0.58],[88,0.71],[92.2,0.32],[96.3,0.45],[100.4,0.58],[104.5,0.18],[108.6,0.45],[112.8,0.32],[117,0.71],[120,0.32],[-14.8,1.1],[-12.8,1.5],[-10.7,1.89],[-8.6,2.03],[-6.6,1.1],[-4.5,1.37],[-2.5,3.6],[-0.4,3.21],[-2.5,2.42],[3.7,1.76]];
const incSacLine = [[7,6.1],[9,6.05],[11,5.97],[13,5.71],[15.2,5.58],[17.2,5.32],[19.3,5.05],[21.3,4.66],[23.4,5.05],[25.4,5.58],[27.5,5.45],[29.5,5.32],[31.6,5.32],[33.6,5.58],[35.7,5.45],[37.7,5.05],[39.8,4.66],[41.8,4.26],[43.9,3.87],[46,3.47],[48,3.08],[50,2.82],[52,2.42],[54,2.16],[56.2,2.03],[58.2,1.89],[60.3,1.89],[62.3,1.84],[64.4,1.76],[66.4,1.63],[68.5,1.5],[70.5,1.42],[72.6,1.37],[74.6,1.29],[78.8,1.16],[82.9,1.1],[87,1.05],[91,0.97],[95.2,0.97],[99.3,0.97],[103.4,1.03],[107.5,0.97],[111.6,0.97],[115.7,0.97],[119.8,0.97]];
const incSacPts = [[12.3,8.21],[15.2,7.95],[16.4,7.55],[21.3,7.55],[25.4,6.5],[7,6.89],[9.8,6.89],[8.2,6.5],[13,6.63],[18,6.5],[29.5,6.63],[33.6,7.55],[35.7,6.24],[39.8,6.1],[7,5.58],[11,5.84],[15.2,5.32],[9,4.26],[11,3.87],[16.4,4.13],[18,3.34],[23.4,1.76],[24.6,4.13],[26,4.0],[28.7,4.39],[31.6,3.34],[32.8,3.87],[35.7,3.34],[37.7,3.87],[41.8,5.97],[43.9,4.13],[46,2.42],[48,3.34],[50,2.95],[52,2.68],[54,2.03],[56.2,2.29],[58.2,1.24],[60.3,1.76],[62.3,1.63],[64.4,2.16],[66.4,1.89],[68.5,1.37],[70.5,1.5],[72.6,1.1],[74.6,1.63],[78,1.37],[80.8,0.71],[82.9,0.97],[87,0.58],[91,1.1],[95.2,0.58],[99.3,0.97],[103.4,0.58],[107.5,1.1],[111.6,0.71],[115.7,1.24],[117.7,0.58],[120.6,0.97]];
const incSJLine = [[-15,2.1],[-13,2.47],[-10.3,2.68],[-8.2,2.82],[-6.2,3.21],[-4.1,4.39],[-2,5.32],[0,5.63],[2,5.63],[4.1,5.71],[6.2,5.84],[8.2,6.1],[10.3,6.5],[12.3,6.68],[14.4,6.5],[16.4,6.1],[18.5,5.71],[20.5,5.32],[22.6,5.84],[24.6,6.5],[26.7,6.89],[28.7,7.03],[30.8,7.16],[32.8,7.29],[34.9,7.37],[36,7.29],[37.7,6.89],[39.4,6.1],[41,5.32],[43,4.39],[45.1,3.87],[47.2,3.47],[49.2,2.95],[51.3,2.68],[53.3,2.42],[55.4,2.16],[57.4,2.03],[59.5,1.89],[61.5,1.76],[63.6,1.63],[65.6,1.42],[69.7,1.24],[73.8,1.16],[78,1.1],[82,0.97],[86,0.84],[90.2,0.79],[94.3,0.71],[98.4,0.66],[102.5,0.58],[106.6,0.53],[110.7,0.53],[114.8,0.5],[120,0.45]];
const incSJPts = [[14.4,9.05],[34.9,9.13],[26.7,8.34],[28.7,8.08],[32.8,8.16],[12.3,7.55],[14.4,7.68],[4.1,6.5],[2,6.24],[0,5.97],[6.2,6.1],[8.2,6.5],[10.3,6.1],[18.5,7.03],[20.5,6.89],[22.6,6.37],[30.8,6.24],[32.8,6.89],[37,7.55],[39,6.89],[41,6.1],[40.2,6.37],[10.3,5.18],[12.3,4.92],[14.4,4.79],[16.4,5.05],[18.5,4.13],[21.7,3.21],[23.8,3.34],[30.8,4.0],[-7.4,4.0],[-6.2,3.47],[-4.1,2.82],[-8.2,2.29],[-10.3,2.42],[-13,2.82],[-15,1.37],[41,4.79],[43,4.0],[45.1,3.47],[47.2,3.21],[49.2,2.68],[51.3,2.16],[53.3,2.29],[55.4,1.89],[57.4,1.63],[59.5,2.03],[62.3,1.5],[65.6,1.63],[67.7,1.1],[71.8,1.37],[76,0.97],[80,1.1],[84,0.84],[88.2,0.58],[92.3,0.97],[96.4,0.58],[100.5,0.71],[104.6,0.45],[108.7,0.71],[112.8,0.37],[117,0.58],[120,0.37]];
const incSunnyLine = [[-1.2,2.16],[0.8,2.42],[2.9,2.55],[5,2.68],[7,2.82],[9,2.95],[11,3.21],[13,3.47],[15.2,3.87],[17.2,3.34],[19.3,3.08],[21.3,3.47],[23.4,3.6],[25.4,3.74],[27.5,3.6],[29.5,3.87],[31.6,4.0],[33.6,3.87],[35.7,3.47],[37.7,3.08],[39.8,2.82],[41.8,2.42],[43.9,2.16],[46,1.89],[48,1.76],[50,1.63],[52,1.5],[54,1.37],[56,1.32],[58.2,1.37],[60.3,1.16],[62.3,0.97],[64.4,0.89],[66.4,0.84],[68.5,0.71],[70.5,0.71],[72.6,0.63],[76.7,0.58],[80.8,0.53],[85,0.45],[89,0.45],[93.1,0.37],[97.2,0.45],[101.3,0.37],[105.4,0.37],[109.5,0.45],[113.6,0.37],[117.7,0.37],[120.5,0.37]];
const incSunnyPts = [[9,5.84],[15.2,5.84],[27.5,5.84],[35.7,5.32],[11,4.92],[13,4.92],[15.2,4.53],[7,4.0],[17.2,4.13],[19.3,4.13],[33.6,4.79],[37.7,4.66],[-1.2,2.42],[0.8,2.55],[2,1.89],[3.7,2.95],[5,2.03],[7,2.42],[9,1.89],[11,2.95],[13,3.47],[17.2,3.6],[19.3,3.21],[21.3,3.08],[23.4,0.84],[25.4,3.21],[27.5,3.74],[29.5,3.47],[31.6,4.0],[33.6,3.87],[37.7,3.34],[39.8,2.95],[41.8,2.29],[43.9,2.42],[46,1.5],[48,1.37],[50,1.63],[52,1.24],[54,0.97],[56,1.1],[58.2,1.63],[60.3,0.84],[62.3,2.55],[64.4,0.84],[66.4,0.58],[68.5,0.97],[70.5,0.32],[72.6,0.71],[76.7,0.84],[78.8,0.32],[80.8,0.71],[82.9,0.18],[85,0.45],[89,0.58],[93.1,0.18],[95,0.32],[99.3,0.45],[103.4,0.58],[107.5,0.84],[111.6,0.32],[115.7,0.58],[118.6,0.32],[120.5,0.58]];
const incSVCWLine = [[6.6,4.66],[7.8,4.79],[9,4.66],[10.7,4.84],[12.3,4.47],[14,4.53],[16,4.26],[18,4.39],[20,4.13],[21.4,3.74],[23,4.26],[24.7,4.92],[26.3,5.18],[28.4,5.58],[30.5,5.79],[32.5,5.89],[34.6,6.03],[36.6,5.58],[38.7,4.92],[40.7,4.13],[42.8,3.6],[44.9,3.21],[47,2.95],[49,3.0],[51,2.82],[53,2.42],[55,2.03],[57.2,1.76],[59.3,1.5],[61.3,1.24],[63.4,1.1],[65.4,0.97],[67.5,0.84],[69.5,0.84],[71.6,0.79],[75.7,0.71],[79.8,0.71],[84,0.71],[88,0.63],[92.2,0.58],[96.3,0.63],[100.4,0.58],[104.5,0.53],[108.6,0.53],[112.8,0.71],[117,0.58],[120.5,0.58]];
const incSVCWPts = [[34.7,7.7],[33,7.36],[28,7.23],[24.6,6.71],[28.7,6.84],[7.1,6.58],[10.4,6.58],[13.8,6.31],[6.1,5.53],[17.8,5.39],[20.6,5.53],[39.9,6.18],[41.6,6.18],[36.5,5.53],[23,4.74],[28,4.47],[9.4,2.5],[11.1,2.76],[13.8,2.63],[24.6,3.42],[27.4,3.68],[23.9,1.44],[39,3.95],[40.9,3.87],[45,3.68],[47.7,1.78],[50,3.95],[53.4,3.28],[55,3.02],[56.8,2.63],[60.2,2.1],[63.5,1.58],[68.6,1.31],[72,1.05],[75.4,1.44],[82.2,1.31],[85.5,1.18],[88.8,0.92],[93.9,0.66],[99,0.52],[102.4,0.79],[107.5,0.39],[112.6,0.92],[116,0.52],[119.3,0.66]];

// ---------- assembly ----------
const day0 = Date.UTC(2021, 11, 1);
const toDate = d => new Date(day0 + d * 864e5);
const xDomain = [toDate(-21.8), toDate(125.8)];
const monthTickDates = monthTicks.map(s => new Date(s + "T00:00:00Z"));
const monthFmt = d3.utcFormat("%b");

function sci(v) {
  if (v === 0) return "0e+00";
  const e = Math.floor(Math.log10(Math.abs(v)) + 1e-9);
  const m = Math.round(v / Math.pow(10, e));
  return m + "e" + (e < 0 ? "\u2212" : "+") + String(Math.abs(e)).padStart(2, "0");
}
function table(series, unit) {
  return series.flatMap(([site, arr]) => arr.map(([d, v]) => ({site, date: toDate(d), value: v * unit})));
}

const rows = [
  {unit: 1e5, yTicks: yTicksCpg, yDomain: [-0.33e5, 7.92e5],
   lines: [["Dav",cpgDavLine],["Gil",cpgGilLine],["Ocean",cpgOceanLine],["PA",cpgPALine],["Sac",cpgSacLine],["SJ",cpgSJLine],["Sunny",cpgSunnyLine],["SVCW",cpgSVCWLine]],
   pts: [["Dav",cpgDavPts],["Gil",cpgGilPts],["Ocean",cpgOceanPts],["PA",cpgPAPts],["Sac",cpgSacPts],["SJ",cpgSJPts],["Sunny",cpgSunnyPts],["SVCW",cpgSVCWPts]],
   height: 292, marginTop: 50.7, marginBottom: 59.7, strips: true, capDy: 50},
  {unit: 1e-4, yTicks: yTicksPmm, yDomain: [-0.426e-4, 7.86e-4],
   lines: [["Dav",pmmDavLine],["Gil",pmmGilLine],["Ocean",pmmOceanLine],["PA",pmmPALine],["Sac",pmmSacLine],["SJ",pmmSJLine],["Sunny",pmmSunnyLine],["SVCW",pmmSVCWLine]],
   pts: [["Dav",pmmDavPts],["Gil",pmmGilPts],["Ocean",pmmOceanPts],["PA",pmmPAPts],["Sac",pmmSacPts],["SJ",pmmSJPts],["Sunny",pmmSunnyPts],["SVCW",pmmSVCWPts]],
   height: 253, marginTop: 14, marginBottom: 56.3, strips: false, capDy: 48},
  {unit: 1e-4, yTicks: yTicksInc, yDomain: [-0.632e-4, 13.63e-4],
   lines: [["Dav",incDavLine],["Gil",incGilLine],["Ocean",incOceanLine],["PA",incPALine],["Sac",incSacLine],["SJ",incSJLine],["Sunny",incSunnyLine],["SVCW",incSVCWLine]],
   pts: [["Dav",incDavPts],["Gil",incGilPts],["Ocean",incOceanPts],["PA",incPAPts],["Sac",incSacPts],["SJ",incSJPts],["Sunny",incSunnyPts],["SVCW",incSVCWPts]],
   height: 246, marginTop: 15.7, marginBottom: 49.7, strips: false, capDy: 45}
];

const font = "'Liberation Sans', Arial, Helvetica, sans-serif";
const container = document.getElementById("chart");

rows.forEach((row, i) => {
  const lineData = table(row.lines, row.unit);
  const ptData = table(row.pts, row.unit);
  const panelH = row.height - row.marginTop - row.marginBottom;
  const marks = [
    Plot.dot(ptData, {fx: "site", x: "date", y: "value", r: 2.7, fill: "site", stroke: "site",
      fillOpacity: 0.22, strokeOpacity: 0.28, strokeWidth: 0.9}),
    Plot.line(lineData, {fx: "site", x: "date", y: "value", stroke: "site", strokeWidth: 2.8,
      strokeLinejoin: "round", strokeLinecap: "round"}),
    Plot.ruleX([xDomain[0]], {stroke: "black", strokeWidth: 1.5}),
    Plot.ruleY([row.yDomain[0]], {stroke: "black", strokeWidth: 1.5, strokeLinecap: "square"}),
    Plot.axisX({ticks: monthTickDates, tickFormat: monthFmt, tickSize: 4.5, tickPadding: 6.5,
      fontSize: 16.5, fill: "#4D4D4D", stroke: "#333", strokeWidth: 1.1, label: null}),
    Plot.axisY({ticks: row.yTicks, tickFormat: sci, tickSize: 5, tickPadding: 4.5,
      fontSize: 16.5, fill: "#4D4D4D", stroke: "#333", strokeWidth: 1.1, label: null}),
    Plot.text([rowTitles[i]], {fx: () => "Dav", frameAnchor: "left", dx: -67.5, rotate: -90,
      lineAnchor: "bottom", textAnchor: "middle", fontSize: 18, fontWeight: "bold", fill: "black"}),
    Plot.text([rowCaptions[i]], {fx: () => "SVCW", frameAnchor: "bottom-right", dy: row.capDy,
      lineAnchor: "bottom", textAnchor: "end", fontSize: 16.5, fill: "black"})
  ];
  if (row.strips) {
    marks.push(Plot.frame({insetTop: -36.7, insetBottom: panelH, stroke: "black", strokeWidth: 1.5, fill: "white"}));
    marks.push(Plot.text(sites, {fx: d => d, text: d => d, frameAnchor: "top", dy: -18.35,
      lineAnchor: "middle", fontSize: 21.5, fill: "#1A1A1A"}));
  }
  const svg = Plot.plot({
    width: 1349, height: row.height,
    marginTop: row.marginTop, marginBottom: row.marginBottom, marginLeft: 93.5, marginRight: 9.25,
    style: {fontFamily: font, background: "transparent", overflow: "visible"},
    fx: {domain: sites, paddingInner: 0.0747, paddingOuter: 0, round: false, axis: null, label: null},
    x: {type: "utc", domain: xDomain},
    y: {domain: row.yDomain},
    color: {domain: sites, range: siteColors},
    marks
  });
  container.appendChild(svg);
});
</script></body></html>
